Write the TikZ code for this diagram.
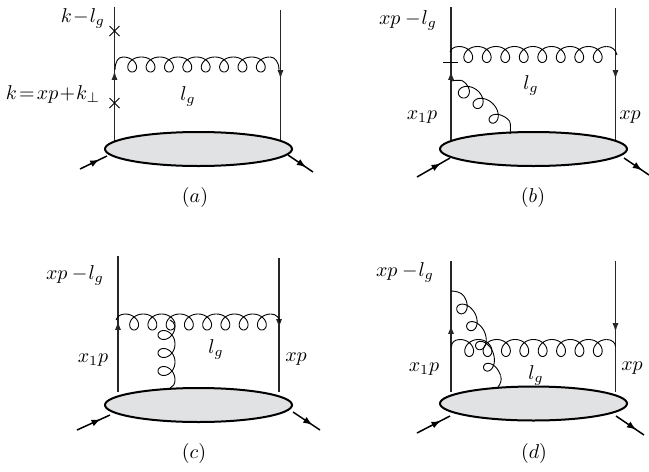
\documentclass[tikz,border=0pt]{standalone}
\usetikzlibrary{decorations.markings,arrows.meta,shapes.geometric}
\definecolor{blobgray}{HTML}{E1E2E4}
\tikzset{
  x=0.5pt,y=-0.5pt,
  quark/.style={line width=0.65pt,black!85},
  blob/.style={draw=black,line width=1pt,fill=blobgray,shape=ellipse,minimum width=93.5pt,minimum height=17pt,inner sep=0pt},
  gluonline/.style={line width=0.45pt,line join=round},
  ext/.style={line width=0.75pt},
  midarrow/.style={postaction={decorate,decoration={markings,mark=at position #1 with {\arrow{Latex[length=4.6pt,width=3.5pt]}}}}},
  tinyarrow/.style={-{Latex[length=4.4pt,width=3pt]}},
  lbl/.style={inner sep=0pt,font=\fontsize{10.4}{12}\selectfont},
  cut/.style={line width=0.4pt},
}
% gluon along a quadratic Bezier: (start)(control)(end){loops}{a}{b}; the sign of b gives the side
\def\gluon(#1,#2)(#3,#4)(#5,#6)#7#8#9{%
  \pgfmathtruncatemacro{\gsamples}{#7*40+1}%
  \def\gdx{(0.2*(1-\t)*(#3-#1)+0.2*\t*(#5-#3))}%
  \def\gdy{(0.2*(1-\t)*(#4-#2)+0.2*\t*(#6-#4))}%
  \def\glen{veclen(\gdx,\gdy)}%
  \def\gth{(180+360*#7*\t)}%
  \draw[gluonline] plot[samples=\gsamples,domain=0:1,variable=\t]
   ({(1-\t)*(1-\t)*#1+2*\t*(1-\t)*#3+\t*\t*#5
      +(-(#8)*sin(\gth)*\gdx-(#9)*cos(\gth)*\gdy)/\glen},
    {(1-\t)*(1-\t)*#2+2*\t*(1-\t)*#4+\t*\t*#6
      +(-(#8)*sin(\gth)*\gdy+(#9)*cos(\gth)*\gdx)/\glen});%
}
\begin{document}
\begin{tikzpicture}
\useasboundingbox (0,0) rectangle (649,472);
% (a)
\coordinate (aLt) at (114.5,6.5); \coordinate (aLb) at (114.5,142);
\coordinate (aRt) at (280.5,10); \coordinate (aRb) at (280.5,142);
\draw[quark] (aLt) -- (aLb); \draw[quark] (aRt) -- (aRb);
\node[blob] (aB) at (198.5,149) {};
\draw[tinyarrow,quark] (114.5,81) -- (114.5,71);
\draw[tinyarrow,quark] (280.5,69) -- (280.5,79);
\draw[gluonline] (115,70) .. controls (115,62) and (118,57) .. (123,57);
\gluon(123,64.5)(196.5,64.5)(270,64.5){8}{8.5}{7.5}
\draw[gluonline] (270,57) .. controls (275,57) and (279,62) .. (279,70);
\draw[cut] (109.5,26) -- (119.5,36) (109.5,36) -- (119.5,26);
\draw[cut] (109.5,98) -- (119.5,108) (109.5,108) -- (119.5,98);
\coordinate (aI1) at (80,169); \coordinate (aI2) at (107,156);
\coordinate (aO1) at (288,155); \coordinate (aO2) at (313,172);
\draw[ext,midarrow=0.72] (aI1) -- (aI2);
\draw[ext,midarrow=0.72] (aO1) -- (aO2);
\node[lbl] (aL1) at (83,18) {$k\!-\!l_g$};
\node[lbl] (aL2) at (53,94) {$k\!=\!xp\!+\!k_\perp$};
\node[lbl] (aL3) at (188,96) {$l_g$};
\node[lbl] (aL4) at (195,197) {$(a)$};
% (b)
\coordinate (bLt) at (451,7); \coordinate (bLb) at (451,142);
\coordinate (bRt) at (615.5,8); \coordinate (bRb) at (615.5,142);
\draw[quark] (bLt) -- (bLb); \draw[quark] (bRt) -- (bRb);
\node[blob] (bB) at (533.5,149) {};
\draw[tinyarrow,quark] (451,81) -- (451,71);
\draw[tinyarrow,quark] (615.5,69) -- (615.5,79);
\draw[gluonline] (450,52) .. controls (451,49) and (454,46.5) .. (459,46.5);
\gluon(459,54.5)(533,54.5)(607,54.5){8}{8.5}{8}
\draw[gluonline] (607,46.5) .. controls (612,46.5) and (616,50) .. (617,55);
\draw[cut] (443,62) -- (458,62);
\draw[gluonline] (451,81) .. controls (454,80.5) and (458,80) .. (461.4,80.3);
\gluon(458,87)(478,97)(504,126){3}{9}{7.5}
\draw[gluonline] (509.6,121) .. controls (511,125) and (510.5,130) .. (510,134);
\coordinate (bI1) at (417,177); \coordinate (bI2) at (450,158);
\coordinate (bO1) at (624,158); \coordinate (bO2) at (649,175);
\draw[ext,midarrow=0.72] (bI1) -- (bI2);
\draw[ext,midarrow=0.72] (bO1) -- (bO2);
\node[lbl] (bL1) at (408,20) {$xp-\!l_g$};
\node[lbl] (bL2) at (531,85) {$l_g$};
\node[lbl] (bL3) at (422,117) {$x_1p$};
\node[lbl] (bL4) at (630,117) {$xp$};
\node[lbl] (bL5) at (533,197) {$(b)$};
% (c)
\coordinate (cLt) at (118,256); \coordinate (cLb) at (118,392);
\coordinate (cRt) at (279,258); \coordinate (cRb) at (279,392);
\draw[quark] (cLt) -- (cLb); \draw[quark] (cRt) -- (cRb);
\node[blob] (cB) at (198.5,405) {};
\draw[tinyarrow,quark] (118,331) -- (118,321);
\draw[tinyarrow,quark] (279,318) -- (279,328);
\draw[gluonline] (116,320) .. controls (117,317) and (120,314) .. (125,314);
\gluon(125,322)(198,322)(271,322){8}{8.5}{8}
\draw[gluonline] (271,314) .. controls (276,314) and (280,318) .. (280,323);
\draw[gluonline] (170,320) .. controls (172,321) and (175,323) .. (175,326);
\gluon(166.5,326)(166.5,353)(166.5,380){3}{8.5}{8.5}
\draw[gluonline] (175,380) .. controls (175,384) and (173,387) .. (170,388);
\coordinate (cI1) at (77,430); \coordinate (cI2) at (110,415);
\coordinate (cO1) at (293,412); \coordinate (cO2) at (320,430);
\draw[ext,midarrow=0.72] (cI1) -- (cI2);
\draw[ext,midarrow=0.72] (cO1) -- (cO2);
\node[lbl] (cL1) at (75,275) {$xp-\!l_g$};
\node[lbl] (cL2) at (216,349) {$l_g$};
\node[lbl] (cL3) at (93,360) {$x_1p$};
\node[lbl] (cL4) at (296,359) {$xp$};
\node[lbl] (cL5) at (194,453) {$(c)$};
% (d)
\coordinate (dLt) at (451,261); \coordinate (dLb) at (451,392);
\coordinate (dRt) at (615.5,261); \coordinate (dRb) at (615.5,392);
\draw[quark] (dLt) -- (dLb); \draw[quark] (dRt) -- (dRb);
\node[blob] (dB) at (533.5,403.5) {};
\draw[tinyarrow,quark] (451,335) -- (451,325);
\draw[tinyarrow,quark] (615.5,322) -- (615.5,332);
\draw[gluonline] (451.5,346.5) .. controls (451.5,343) and (454,339.5) .. (460,339.5);
\gluon(460,348)(533.5,348)(607,348){8}{8.5}{8.5}
\draw[gluonline] (607,339.5) .. controls (612,339.5) and (615.5,343) .. (615.5,346.5);
\draw[gluonline] (451,291) .. controls (455,291) and (461,292) .. (463.7,295.9);
\gluon(458,300)(480,330)(494,378){4}{9}{7}
\draw[gluonline] (500.7,376) .. controls (502,380) and (500.5,384) .. (498,387);
\coordinate (dI1) at (417,433); \coordinate (dI2) at (450,416);
\coordinate (dO1) at (616,416); \coordinate (dO2) at (644,435);
\draw[ext,midarrow=0.72] (dI1) -- (dI2);
\draw[ext,midarrow=0.72] (dO1) -- (dO2);
\node[lbl] (dL1) at (405,272) {$xp-\!l_g$};
\node[lbl] (dL2) at (536,375) {$l_g$};
\node[lbl] (dL3) at (424,369) {$x_1p$};
\node[lbl] (dL4) at (632,368) {$xp$};
\node[lbl] (dL5) at (534,453) {$(d)$};
\end{tikzpicture}
\end{document}
